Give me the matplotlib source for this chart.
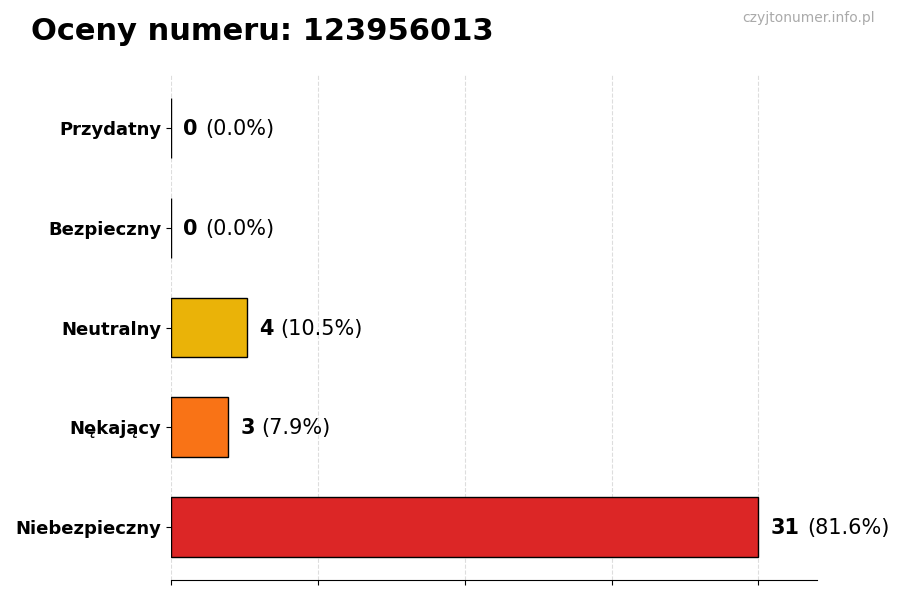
import matplotlib
matplotlib.use('Agg')
import matplotlib.pyplot as plt
import matplotlib.transforms as mtransforms
import numpy as np

categories = ['Niebezpieczny', 'Nękający', 'Neutralny', 'Bezpieczny', 'Przydatny']
counts = [31, 3, 4, 0, 0]
colors = ['#dc2626', '#f97316', '#eab308', '#22c55e', '#16a34a']
title = 'Oceny numeru: 123956013'
watermark = 'czyjtonumer.info.pl'

total = sum(counts)
max_val = max(counts)

fig = plt.figure(figsize=(9, 6), dpi=100)
ax = fig.add_axes([0.19, 0.0333, 0.718, 0.8417])

y = np.arange(len(categories))
ax.barh(y, counts, height=0.6, color=colors, edgecolor='black', linewidth=1)
ax.set_yticks(y)
ax.set_yticklabels(categories, fontsize=13, fontweight='bold')
ax.set_xlim(0, max_val * 1.1)
ax.set_xticks(np.linspace(0, max_val, 5))
ax.set_xticklabels([])
ax.xaxis.grid(True, linestyle='--', color='#dddddd', linewidth=0.8)
ax.set_axisbelow(True)
for s in ['top', 'right', 'left']:
    ax.spines[s].set_visible(False)

fig.canvas.draw()
renderer = fig.canvas.get_renderer()
for i, c in enumerate(counts):
    pct = c / total * 100
    t = ax.text(c + max_val * 0.021, i - 0.01, str(c), fontsize=15, fontweight='bold',
                va='center', ha='left')
    bb = t.get_window_extent(renderer=renderer)
    off = mtransforms.offset_copy(ax.transData, fig=fig, x=bb.width + 7, y=0, units='dots')
    ax.text(c + max_val * 0.021, i - 0.01, f'({pct:.1f}%)', fontsize=15, va='center', ha='left',
            transform=off)

fig.text(0.034, 0.948, title, fontsize=22, fontweight='bold', va='center', ha='left')
fig.text(0.972, 0.97, watermark, fontsize=10, color='#aaaaaa', va='center', ha='right')

fig.savefig('out.png', dpi=100)
